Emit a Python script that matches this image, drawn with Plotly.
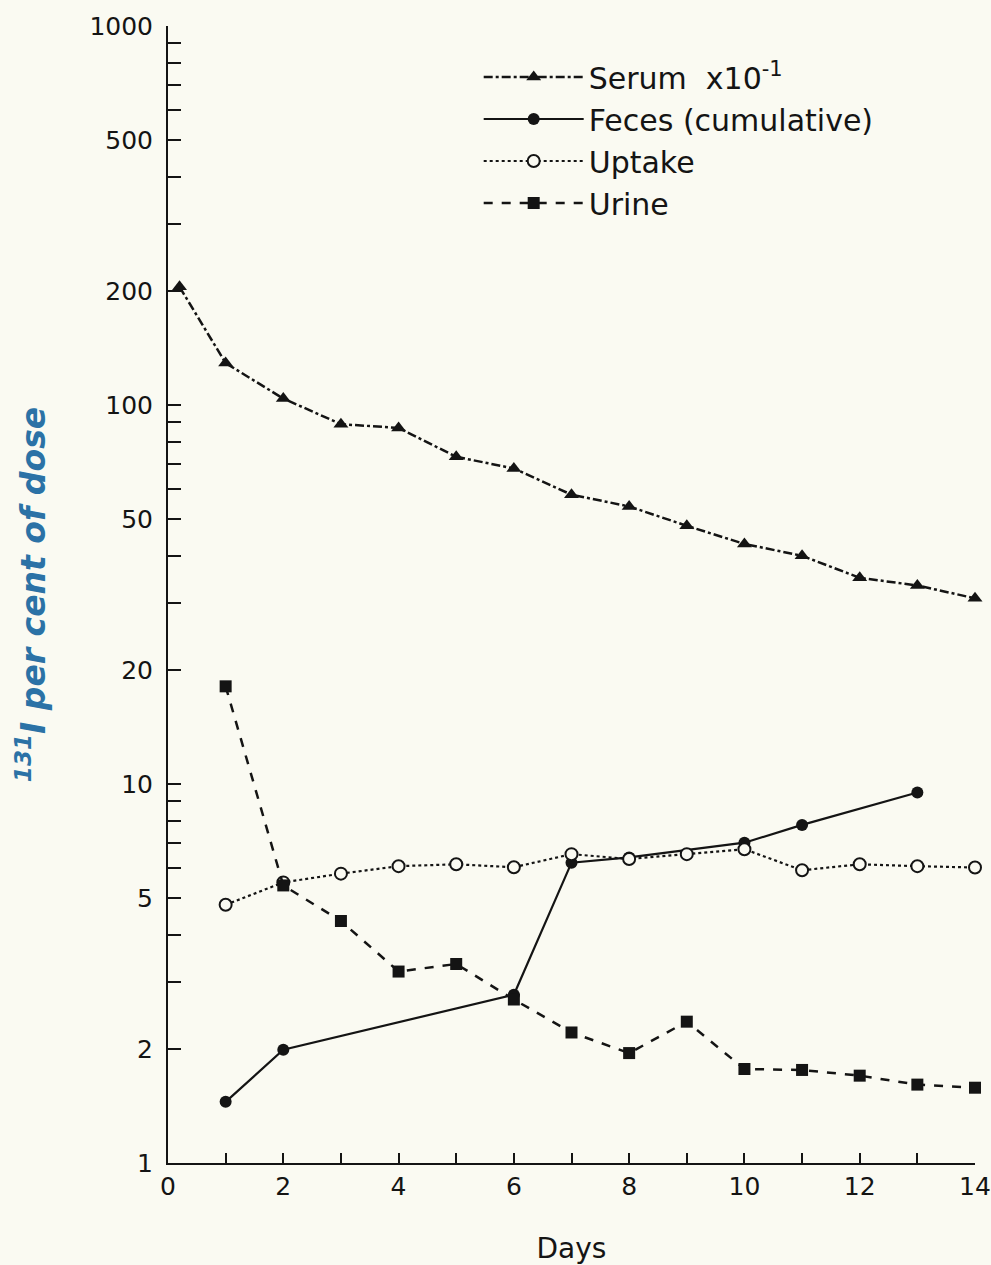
import plotly.graph_objects as go

# ---- data ----
serum_days = [0.2, 1, 2, 3, 4, 5, 6, 7, 8, 9, 10, 11, 12, 13, 14]
serum_vals = [205, 129, 104, 89, 87, 73, 68, 58, 54, 48, 43, 40, 35, 33.4, 30.9]

feces_days = [1, 2, 6, 7, 8, 10, 11, 13]
feces_vals = [1.45, 1.99, 2.78, 6.2, 6.4, 7.0, 7.8, 9.5]

uptake_days = [1, 2, 3, 4, 5, 6, 7, 8, 9, 10, 11, 12, 13, 14]
uptake_vals = [4.8, 5.5, 5.8, 6.07, 6.14, 6.03, 6.53, 6.34, 6.53, 6.73, 5.92, 6.14, 6.07, 6.02]

urine_days = [1, 2, 3, 4, 5, 6, 7, 8, 9, 10, 11, 12, 13, 14]
urine_vals = [18.1, 5.4, 4.35, 3.2, 3.35, 2.7, 2.21, 1.95, 2.36, 1.77, 1.76, 1.70, 1.61, 1.58]

y_tickvals = [1, 2, 3, 4, 5, 6, 7, 8, 9, 10, 20, 30, 40, 50, 60, 70, 80, 90, 100,
              200, 300, 400, 500, 600, 700, 800, 900, 1000]
y_labeled = {1: "1", 2: "2", 5: "5", 10: "10", 20: "20", 50: "50", 100: "100",
             200: "200", 500: "500", 1000: "1000"}
x_tickvals = list(range(0, 15))
x_labeled = {0: "0", 2: "2", 4: "4", 6: "6", 8: "8", 10: "10", 12: "12", 14: "14"}

BG = "#fafaf2"
INK = "#141414"
FONT = "DejaVu Sans"

fig = go.Figure()
fig.add_trace(go.Scatter(
    x=serum_days, y=serum_vals, name="Serum  x10<sup>-1</sup>", mode="lines+markers",
    line=dict(color=INK, width=2.5, dash="dashdot"),
    marker=dict(symbol="triangle-up", size=13, color=INK), cliponaxis=False))
fig.add_trace(go.Scatter(
    x=feces_days, y=feces_vals, name="Feces (cumulative)", mode="lines+markers",
    line=dict(color=INK, width=2.2),
    marker=dict(symbol="circle", size=12, color=INK), cliponaxis=False))
fig.add_trace(go.Scatter(
    x=uptake_days, y=uptake_vals, name="Uptake", mode="lines+markers",
    line=dict(color=INK, width=2.2, dash="dot"),
    marker=dict(symbol="circle", size=12, color=BG, line=dict(color=INK, width=2)),
    cliponaxis=False))
fig.add_trace(go.Scatter(
    x=urine_days, y=urine_vals, name="Urine", mode="lines+markers",
    line=dict(color=INK, width=2.5, dash="dash"),
    marker=dict(symbol="square", size=12, color=INK), cliponaxis=False))

fig.update_layout(
    width=991, height=1265,
    margin=dict(l=168, r=16, t=26, b=102, autoexpand=False),
    paper_bgcolor=BG, plot_bgcolor=BG,
    font=dict(family=FONT, color=INK, size=24),
    showlegend=True,
    legend=dict(x=0.385, y=0.978, xanchor="left", yanchor="top",
                bgcolor="rgba(0,0,0,0)", font=dict(size=30, family=FONT, color=INK),
                itemwidth=100, tracegroupgap=0),
    xaxis=dict(range=[0, 14], showline=True, linecolor=INK, linewidth=2,
               ticks="inside", ticklen=10, tickwidth=2, tickcolor=INK,
               tickvals=x_tickvals, ticktext=[x_labeled.get(v, "") for v in x_tickvals],
               showgrid=False, zeroline=False, tickfont=dict(size=25), automargin=False,
               title=dict(text="Days", font=dict(size=28), standoff=42)),
    yaxis=dict(type="log", range=[0, 3], showline=True, linecolor=INK, linewidth=2,
               ticks="inside", ticklen=13, tickwidth=2, tickcolor=INK,
               tickvals=y_tickvals, ticktext=[y_labeled.get(v, "") for v in y_tickvals],
               showgrid=False, zeroline=False, tickfont=dict(size=25), automargin=False,
               ticklabelstandoff=8,
               title=dict(text="<b><i><sup>131</sup>I per cent of dose</i></b>",
                          font=dict(size=33, color="#2b72a6"), standoff=34)),
)

fig.write_html("out.html", config={"displayModeBar": False},
               post_script="document.body.style.margin='0';document.body.style.background='%s';" % BG)
